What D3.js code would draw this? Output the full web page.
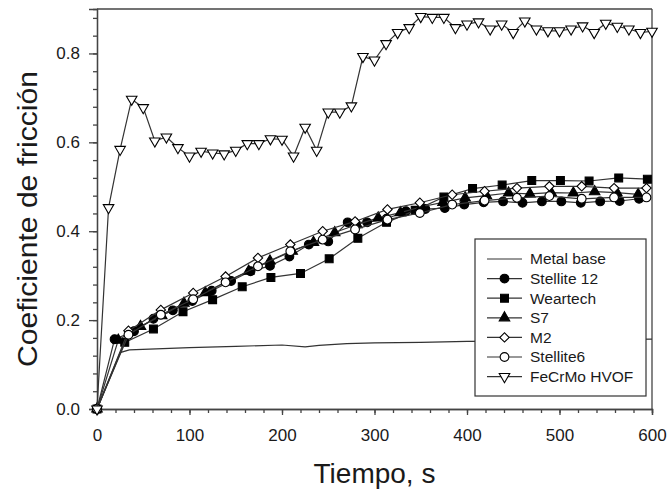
<!DOCTYPE html>
<html>
<head>
<meta charset="utf-8">
<script src="https://cdn.jsdelivr.net/npm/d3@7"></script>
<style>
  body { margin: 0; background: #fff; }
  text { font-family: "Liberation Sans", Arial, sans-serif; fill: #1a1a1a; }
</style>
</head>
<body>
<div id="chart"></div>
<script>
const width = 668;
const height = 491;

// data
const metalTime = [0, 25, 35, 100, 150, 200, 225, 240, 270, 300, 350, 400, 450, 500, 600];
const metalCoef = [0, 0.127, 0.133, 0.138, 0.141, 0.144, 0.140, 0.143, 0.147, 0.149, 0.150, 0.152, 0.153, 0.155, 0.157];

const stellite12Time = [0, 19, 40, 61, 82, 103, 124, 145, 166, 187, 208, 229, 250, 271, 292, 313, 334, 355, 376, 397, 418, 439, 460, 481, 502, 523, 544, 565, 586];
const stellite12Coef = [0, 0.157, 0.175, 0.203, 0.222, 0.243, 0.266, 0.288, 0.310, 0.322, 0.343, 0.370, 0.377, 0.420, 0.420, 0.428, 0.445, 0.450, 0.452, 0.460, 0.465, 0.467, 0.464, 0.467, 0.467, 0.464, 0.467, 0.468, 0.473];

const weartechTime = [0, 30, 61, 93, 125, 157, 188, 220, 251, 282, 313, 344, 375, 406, 438, 470, 501, 532, 564, 595];
const weartechCoef = [0, 0.150, 0.180, 0.219, 0.246, 0.275, 0.296, 0.305, 0.338, 0.384, 0.420, 0.447, 0.477, 0.496, 0.504, 0.514, 0.514, 0.513, 0.520, 0.517];

const s7Time = [0, 23, 47, 70, 94, 117, 140, 164, 187, 211, 234, 257, 281, 304, 328, 351, 374, 398, 421, 445, 468, 491, 515, 538, 562, 585];
const s7Coef = [0, 0.155, 0.186, 0.210, 0.238, 0.262, 0.287, 0.310, 0.333, 0.355, 0.375, 0.397, 0.415, 0.430, 0.442, 0.455, 0.465, 0.475, 0.480, 0.486, 0.484, 0.487, 0.486, 0.489, 0.487, 0.483];

const m2Time = [0, 34, 69, 104, 139, 174, 209, 244, 279, 314, 349, 384, 419, 454, 489, 524, 559, 594];
const m2Coef = [0, 0.176, 0.223, 0.261, 0.298, 0.340, 0.370, 0.400, 0.422, 0.449, 0.464, 0.482, 0.490, 0.497, 0.501, 0.501, 0.497, 0.497];

const stellite6Time = [0, 34, 69, 104, 139, 174, 209, 244, 279, 314, 349, 384, 419, 454, 489, 524, 559, 594];
const stellite6Coef = [0, 0.167, 0.212, 0.247, 0.285, 0.321, 0.355, 0.381, 0.404, 0.426, 0.441, 0.460, 0.469, 0.475, 0.479, 0.473, 0.476, 0.476];

const fecrmoTime = [0, 12.5, 25, 37.5, 50, 62.5, 75, 87.5, 100, 112.5, 125, 137.5, 150, 162.5, 175, 187.5, 200, 212.5, 225, 237.5, 250, 262.5, 275, 287.5, 300, 312.5, 325, 337.5, 350, 362.5, 375, 387.5, 400, 412.5, 425, 437.5, 450, 462.5, 475, 487.5, 500, 512.5, 525, 537.5, 550, 562.5, 575, 587.5, 600];
const fecrmoCoef = [0, 0.453, 0.584, 0.697, 0.678, 0.603, 0.612, 0.588, 0.569, 0.580, 0.576, 0.574, 0.582, 0.597, 0.597, 0.608, 0.607, 0.569, 0.634, 0.582, 0.668, 0.668, 0.682, 0.793, 0.785, 0.822, 0.847, 0.858, 0.883, 0.881, 0.881, 0.858, 0.866, 0.871, 0.855, 0.866, 0.847, 0.873, 0.855, 0.851, 0.851, 0.855, 0.862, 0.847, 0.868, 0.861, 0.855, 0.847, 0.850];

const xTicks = [0, 100, 200, 300, 400, 500, 600];
const yTicks = [0.0, 0.2, 0.4, 0.6, 0.8];

const series = [
  { name: "Metal base", t: metalTime, v: metalCoef, marker: null },
  { name: "Stellite 12", t: stellite12Time, v: stellite12Coef, marker: "circle", fill: "#000" },
  { name: "Weartech", t: weartechTime, v: weartechCoef, marker: "square", fill: "#000" },
  { name: "S7", t: s7Time, v: s7Coef, marker: "triangle", fill: "#000" },
  { name: "M2", t: m2Time, v: m2Coef, marker: "diamond", fill: "#fff" },
  { name: "Stellite6", t: stellite6Time, v: stellite6Coef, marker: "circle", fill: "#fff" },
  { name: "FeCrMo HVOF", t: fecrmoTime, v: fecrmoCoef, marker: "triangleDown", fill: "#fff" }
];

const margin = { top: 9, right: 16, bottom: 82, left: 97 };
const innerWidth = width - margin.left - margin.right;
const innerHeight = height - margin.top - margin.bottom;

const svg = d3.select("#chart")
    .append("svg")
    .attr("width", width)
    .attr("height", height);

const chart = svg.append("g")
    .attr("transform", `translate(${margin.left}, ${margin.top})`);

const xScale = d3.scaleLinear()
    .domain([0, 600])
    .range([0, innerWidth]);

const yScale = d3.scaleLinear()
    .domain([0, 0.9])
    .range([innerHeight, 0]);

// minor ticks
const xAxisMinor = d3.axisBottom(xScale)
    .tickValues(d3.range(0, 601, 20))
    .tickSize(4)
    .tickFormat("");
const yAxisMinor = d3.axisLeft(yScale)
    .tickValues(d3.range(0, 0.89, 0.04))
    .tickSize(4)
    .tickFormat("");

chart.append("g")
    .attr("class", "axis")
    .attr("transform", `translate(0, ${innerHeight})`)
    .call(xAxisMinor);
chart.append("g")
    .attr("class", "axis")
    .call(yAxisMinor);
chart.selectAll(".axis text").remove();

const xAxis = d3.axisBottom(xScale)
    .tickValues(xTicks)
    .tickSize(6)
    .tickPadding(14)
    .tickFormat(d3.format("d"));
const yAxis = d3.axisLeft(yScale)
    .tickValues(yTicks)
    .tickSize(8)
    .tickPadding(9)
    .tickFormat(d3.format(".1f"));

chart.append("g")
    .attr("class", "axis")
    .attr("transform", `translate(0, ${innerHeight})`)
    .call(xAxis);
chart.append("g")
    .attr("class", "axis")
    .call(yAxis);

chart.selectAll(".axis path, .axis line")
    .attr("stroke", "#444")
    .attr("stroke-width", 1.3);
chart.selectAll(".axis text")
    .style("font-size", "17px")
    .style("font-family", "Liberation Sans, Arial, sans-serif")
    .attr("fill", "#1a1a1a");

// frame top and right
chart.append("line")
    .attr("x1", 0).attr("x2", innerWidth)
    .attr("y1", 0).attr("y2", 0)
    .attr("stroke", "#444").attr("stroke-width", 1.3);
chart.append("line")
    .attr("x1", innerWidth).attr("x2", innerWidth)
    .attr("y1", 0).attr("y2", innerHeight)
    .attr("stroke", "#444").attr("stroke-width", 1.3);

// axis labels
svg.append("text")
    .attr("x", margin.left + innerWidth / 2)
    .attr("y", 483)
    .style("text-anchor", "middle")
    .style("font-size", "28px")
    .text("Tiempo, s");

svg.append("text")
    .attr("transform", "translate(37, 219) rotate(-90)")
    .style("text-anchor", "middle")
    .style("font-size", "27px")
    .attr("textLength", 296)
    .attr("lengthAdjust", "spacingAndGlyphs")
    .text("Coeficiente de fricción");

function symbolPath(kind) {
  if (kind === "circle") return d3.symbol().type(d3.symbolCircle).size(60)();
  if (kind === "square") return d3.symbol().type(d3.symbolSquare).size(62)();
  if (kind === "triangle" || kind === "triangleDown") return d3.symbol().type(d3.symbolTriangle).size(48)();
  if (kind === "diamond") return d3.symbol().type(d3.symbolSquare).size(44)();
  return null;
}
function symbolRotate(kind) {
  if (kind === "diamond") return 45;
  if (kind === "triangleDown") return 180;
  return 0;
}

const line = d3.line()
    .x(d => xScale(d[0]))
    .y(d => yScale(d[1]));

series.forEach(s => {
  const pts = s.t.map((t, i) => [t, s.v[i]]);
  chart.append("path")
      .datum(pts)
      .attr("fill", "none")
      .attr("stroke", "#333")
      .attr("stroke-width", 1.2)
      .attr("d", line);
  if (s.marker) {
    chart.selectAll(null)
        .data(pts)
        .enter()
        .append("path")
        .attr("d", symbolPath(s.marker))
        .attr("transform", d => `translate(${xScale(d[0])}, ${yScale(d[1])}) rotate(${symbolRotate(s.marker)})`)
        .attr("fill", s.fill)
        .attr("stroke", "#000")
        .attr("stroke-width", 1.1);
  }
});

// legend
const legend = svg.append("g")
    .attr("transform", "translate(475, 239)");

legend.append("rect")
    .attr("width", 171)
    .attr("height", 157)
    .attr("fill", "#fff")
    .attr("stroke", "#333")
    .attr("stroke-width", 1.2);

const items = legend.selectAll(".legend")
    .data(series)
    .enter()
    .append("g")
    .attr("class", "legend")
    .attr("transform", (d, i) => `translate(0, ${20 + i * 19.6})`);

items.append("line")
    .attr("x1", 12).attr("x2", 47)
    .attr("stroke", "#333")
    .attr("stroke-width", 1.2);

items.filter(d => d.marker)
    .append("path")
    .attr("d", d => symbolPath(d.marker))
    .attr("transform", d => `translate(29.5, 0) rotate(${symbolRotate(d.marker)})`)
    .attr("fill", d => d.fill)
    .attr("stroke", "#000")
    .attr("stroke-width", 1.1);

items.append("text")
    .attr("x", 55)
    .attr("dy", ".35em")
    .style("font-size", "15.5px")
    .text(d => d.name);
</script>
</body>
</html>
